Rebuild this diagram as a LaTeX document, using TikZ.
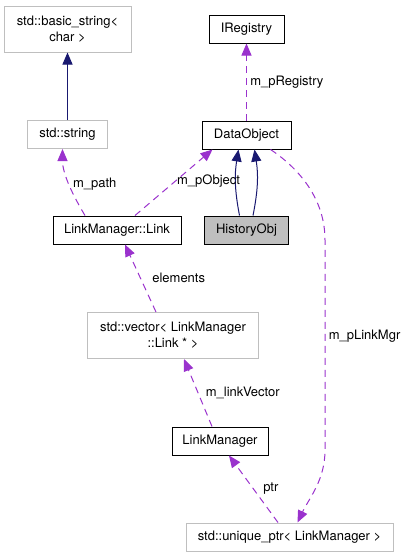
\documentclass[tikz,border=0pt]{standalone}
\usepackage{fontspec}
\setmainfont{TeX Gyre Heros}
\usepackage{tikz}
\usetikzlibrary{positioning, arrows.meta}
\definecolor{inhblue}{HTML}{191970}
\definecolor{usepurple}{HTML}{9A32CD}
\definecolor{extgray}{HTML}{BFBFBF}

\begin{document}
\begin{tikzpicture}[x=1pt, y=-1pt, node distance=1cm,
	every node/.style={font=\fontsize{13}{16}\selectfont},
	cls/.style={rectangle, draw=black, line width=1pt, minimum height=28pt, inner sep=3pt, align=center},
	ext/.style={cls, draw=extgray},
	inh/.style={draw=inhblue, line width=1pt, -{Triangle[length=12pt,width=10pt]}},
	use/.style={draw=usepurple, line width=1pt, dash pattern=on 7pt off 5pt, -{Triangle[length=12pt,width=10pt]}}]
	\useasboundingbox (0,0) rectangle (407,557);

	\node[cls, minimum width=75pt] (ireg) at (246.5,29) {IRegistry};
	\node[cls, below of = ireg, node distance=106pt, minimum width=89pt] (dobj) {DataObject};
	\node[cls, fill=extgray, below of = dobj, node distance=95pt, minimum width=84pt] (hist) {HistoryObj};
	\node[ext, left of = ireg, node distance=179pt, minimum width=127pt, minimum height=46pt] (bstr) {std::basic\_string<\\char >};
	\node[ext, below of = bstr, node distance=105.5pt, minimum width=80pt] (str) {std::string};
	\node[cls, left of = hist, node distance=129.5pt, minimum width=128pt] (link) {LinkManager::Link};
	\node[ext, minimum width=171pt, minimum height=46pt] (vec) at (173,335.5) {std::vector< LinkManager\\::Link * >};
	\node[cls, minimum width=96pt] (lmgr) at (220,441) {LinkManager};
	\node[ext, minimum width=207pt] (uptr) at (289.5,537) {std::unique\_ptr< LinkManager >};



	\draw (str) edge[inh] (bstr) ;
	\draw ([xshift=-7pt]hist.north) edge[inh, bend left=10] ([xshift=-8pt]dobj.south) ;
	\draw ([xshift=6.5pt]hist.north) edge[inh, bend right=10] ([xshift=8pt]dobj.south) ;
	\draw (dobj) edge[use] node[right]{m\_pRegistry} (ireg) ;
	\draw ([xshift=18pt]link.north) edge[use] node[pos=.52, right=-2pt]{m\_pObject} ([xshift=-34pt]dobj.south) ;
	\draw[use] ([xshift=-32pt]link.north) .. controls +(-12,-20) and +(0,25) .. ([xshift=-5pt]str.south) node[pos=.5, right]{m\_path} ;
	\draw ([xshift=-17pt]vec.north) edge[use] node[right=8pt]{elements} ([xshift=8pt]link.south) ;
	\draw ([xshift=-8pt]lmgr.north) edge[use] node[right=4pt]{m\_linkVector} ([xshift=11pt]vec.south) ;
	\draw ([xshift=-11.5pt]uptr.north) edge[use] node[right=6pt]{ptr} ([xshift=9pt]lmgr.south) ;
	\draw[use] ([xshift=24pt]dobj.south) .. controls +(30,20) and +(0,-40) .. (325,240) -- (325,450) node[pos=.46, right]{m\_pLinkMgr} .. controls +(0,30) and +(12,-25) .. ([xshift=8pt]uptr.north) ;


	\end{tikzpicture}
\end{document}
